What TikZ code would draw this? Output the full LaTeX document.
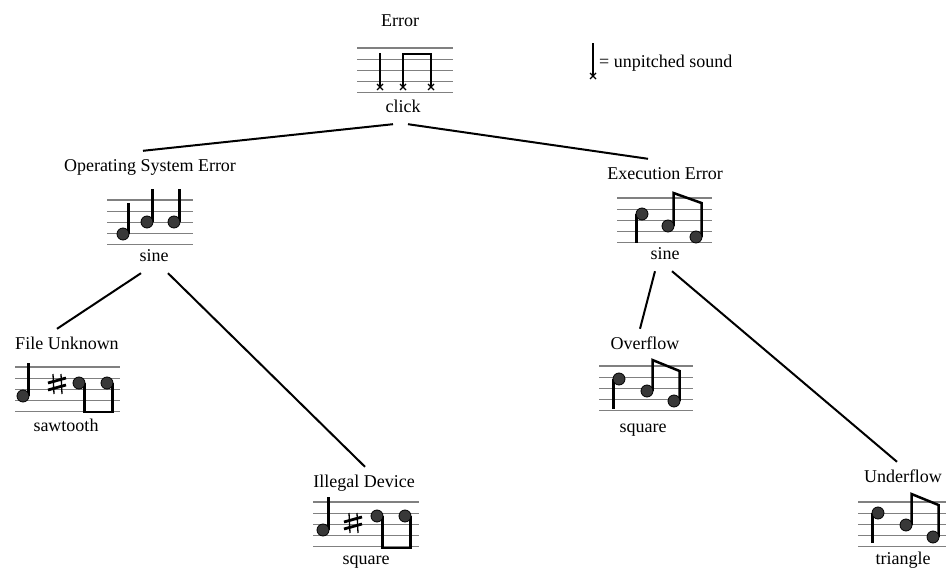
\documentclass[tikz,border=0pt]{standalone}
\usepackage{fontspec}
\setmainfont{Liberation Serif}
\usepackage{tikz}
\tikzset{
  txt/.style      = { font=\fontsize{18}{21}\selectfont, inner sep=0pt, text height=13pt, text depth=4pt, minimum height=32pt },
  branch/.style   = { line width=2pt, black },
  staffline/.style = { line width=1.1pt, black!50 },
  stem/.style     = { line width=2.5pt, black },
  notehead/.style = { draw=black, line width=0.8pt, fill=black!78 },
  xhead/.style    = { line width=1.2pt, black }
}
\newcommand{\stave}[3]{\foreach \k in {0,...,4} \draw[staffline] (#1,#3+\k*11.2) -- (#2,#3+\k*11.2);}
\newcommand{\xnote}[2]{\draw[xhead] (#1-3,#2-3) -- (#1+3,#2+3) (#1-3,#2+3) -- (#1+3,#2-3);}
\newcommand{\sharpsign}[2]{
  \draw[line width=1.3pt] (#1-3,#2+10) -- (#1-4,#2-10) (#1+5,#2+10) -- (#1+4,#2-10);
  \draw[line width=2.8pt] (#1-9,#2-1) -- (#1+9,#2-6) (#1-9,#2+6) -- (#1+9,#2+1);}
\begin{document}
\begin{tikzpicture}[x=1pt,y=-1pt]
  \useasboundingbox (0,0) rectangle (946,570);

  % Draw all labels
  \node[txt] (err)     at (400,22)  {Error};
  \node[txt] (clk)     at (403,108) {click};
  \node[txt] (ose)     at (150,167) {Operating System Error};
  \node[txt] (osesine) at (154,257) {sine};
  \node[txt] (ee)      at (665,175) {Execution Error};
  \node[txt] (eesine)  at (665,255) {sine};
  \node[txt] (fu)      at (67,345)  {File Unknown};
  \node[txt] (fusaw)   at (66,427)  {sawtooth};
  \node[txt] (id)      at (364,483) {Illegal Device};
  \node[txt] (idsq)    at (366,560) {square};
  \node[txt] (ov)      at (645,345) {Overflow};
  \node[txt] (ovsq)    at (643,428) {square};
  \node[txt] (uf)      at (903,478) {Underflow};
  \node[txt] (uftri)   at (903,560) {triangle};
  \node[txt, anchor=west] (legend) at (599,63) {= unpitched sound};

  % Draw branches
  \draw[branch] ([xshift=-10pt]clk.south) -- ([xshift=-7pt]ose.north);
  \draw[branch] ([xshift=5pt]clk.south) -- ([xshift=-17pt]ee.north);
  \draw[branch] ([xshift=-13pt]osesine.south) -- ([xshift=-10pt]fu.north);
  \draw[branch] ([xshift=14pt]osesine.south) -- ([xshift=1pt]id.north);
  \draw[branch] ([xshift=-10pt]eesine.south) -- ([xshift=-5pt]ov.north);
  \draw[branch] ([xshift=7pt]eesine.south) -- ([xshift=-6pt]uf.north);

  % Legend
  \draw[stem] (593,43) -- (593,76);
  \xnote{593}{76}

  % Error (click)
  \stave{357}{453}{48}
  \draw[stem] (380,53) -- (380,87);
  \draw[stem] (403,87) -- (403,54) -- (431,54) -- (431,87);
  \xnote{380}{87} \xnote{403}{87} \xnote{431}{87}

  % Operating System Error (sine)
  \stave{107}{193}{200}
  \draw[stem] (128.5,234) -- (128.5,203);
  \draw[stem] (152.5,222) -- (152.5,189);
  \draw[stem] (179.5,222) -- (179.5,189);
  \filldraw[notehead] (123,234) circle (6) (147,222) circle (6) (174,222) circle (6);

  % Execution Error (sine)
  \stave{617}{712}{198}
  \draw[stem] (636.5,214) -- (636.5,243);
  \draw[stem] (673.5,226) -- (673.5,193) -- (701.5,203) -- (701.5,237);
  \filldraw[notehead] (642,214) circle (6) (668,226) circle (6) (696,237) circle (6);

  % File Unknown (sawtooth)
  \stave{15}{120}{367}
  \draw[stem] (28.5,396) -- (28.5,363);
  \sharpsign{57}{384}
  \draw[stem] (84.5,383) -- (84.5,412) -- (112.5,412) -- (112.5,383);
  \filldraw[notehead] (23,396) circle (6) (79,383) circle (6) (107,383) circle (6);

  % Illegal Device (square)
  \stave{313}{419}{502}
  \draw[stem] (328.5,530) -- (328.5,497);
  \sharpsign{353}{523}
  \draw[stem] (382.5,516) -- (382.5,548) -- (410.5,548) -- (410.5,516);
  \filldraw[notehead] (323,530) circle (6) (377,516) circle (6) (405,516) circle (6);

  % Overflow (square)
  \stave{599}{693}{366}
  \draw[stem] (613.5,379) -- (613.5,409);
  \draw[stem] (652.5,391) -- (652.5,360) -- (679.5,371) -- (679.5,401);
  \filldraw[notehead] (619,379) circle (6) (647,391) circle (6) (674,401) circle (6);

  % Underflow (triangle)
  \stave{858}{946}{502}
  \draw[stem] (872.5,513) -- (872.5,543);
  \draw[stem] (911.5,525) -- (911.5,494) -- (938.5,505) -- (938.5,537);
  \filldraw[notehead] (878,513) circle (6) (906,525) circle (6) (933,537) circle (6);
\end{tikzpicture}
\end{document}
